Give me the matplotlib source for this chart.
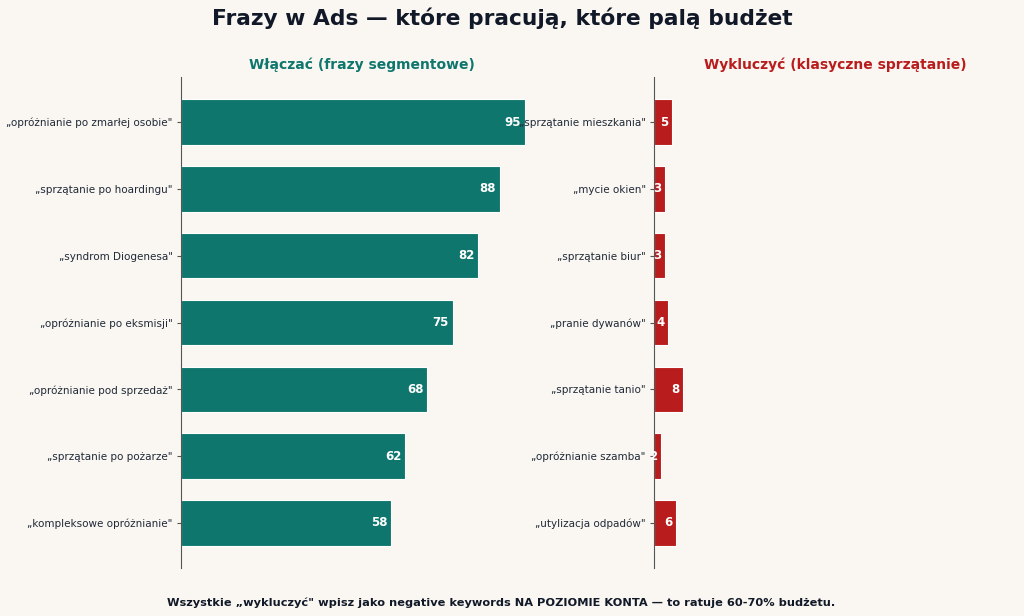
import matplotlib
matplotlib.use("Agg")
import matplotlib.pyplot as plt

include_labels = ['„opróżnianie po zmarłej osobie"', '„sprzątanie po hoardingu"', '„syndrom Diogenesa"',
                  '„opróżnianie po eksmisji"', '„opróżnianie pod sprzedaż"', '„sprzątanie po pożarze"',
                  '„kompleksowe opróżnianie"']
include_values = [95, 88, 82, 75, 68, 62, 58]
exclude_labels = ['„sprzątanie mieszkania"', '„mycie okien"', '„sprzątanie biur"', '„pranie dywanów"',
                  '„sprzątanie tanio"', '„opróżnianie szamba"', '„utylizacja odpadów"']
exclude_values = [5, 3, 3, 4, 8, 2, 6]

BG = "#faf7f2"
TEAL = "#0f766e"
RED = "#b91c1c"
DARK = "#111827"
TXT = "#1f2937"

fig = plt.figure(figsize=(10.24, 6.16), dpi=100, facecolor=BG)
ax1 = fig.add_axes([181/1024, 1-568/616, 362/1024, 491/616])
ax2 = fig.add_axes([654/1024, 1-568/616, 362/1024, 491/616])

for ax, labels, vals, col, title in [
        (ax1, include_labels, include_values, TEAL, "Włączać (frazy segmentowe)"),
        (ax2, exclude_labels, exclude_values, RED, "Wykluczyć (klasyczne sprzątanie)")]:
    ax.set_facecolor(BG)
    y = list(range(len(vals)))
    ax.barh(y, vals, height=0.68, color=col, edgecolor="white", linewidth=0.8)
    ax.set_yticks(y)
    ax.set_yticklabels(labels, fontsize=7.5, color=TXT)
    ax.invert_yaxis()
    ax.set_xlim(0, 100)
    ax.set_xticks([])
    for s in ["top", "right", "bottom"]:
        ax.spines[s].set_visible(False)
    ax.spines["left"].set_color("#555555")
    ax.tick_params(axis="y", color="#555555", length=3, pad=3)
    for yi, v in zip(y, vals):
        ax.text(v - 1, yi, str(v), ha="right", va="center", color="white",
                fontsize=8.5, fontweight="bold")
    ax.set_title(title, fontsize=10, fontweight="bold", color=col, pad=6)

fig.suptitle("Frazy w Ads — które pracują, które palą budżet", x=502/1024, y=0.988,
             fontsize=15.7, fontweight="bold", color=DARK)
fig.text(501/1024, 1-603/616, "Wszystkie „wykluczyć\" wpisz jako negative keywords NA POZIOMIE KONTA — to ratuje 60-70% budżetu.",
         ha="center", va="center", fontsize=8.2, fontweight="bold", color=DARK)

fig.savefig("out.png", dpi=100, facecolor=BG)
